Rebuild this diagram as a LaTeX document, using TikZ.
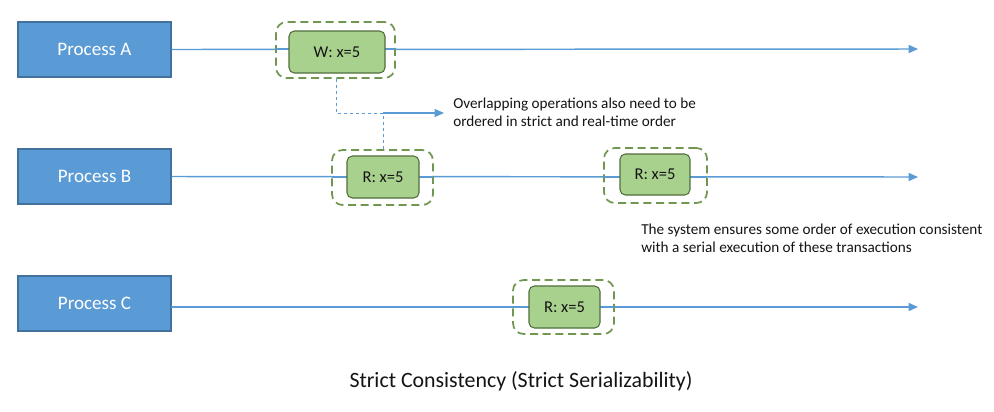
\documentclass[tikz,border=0pt]{standalone}
\usepackage{fontspec}
\setmainfont{Carlito}
\usetikzlibrary{arrows.meta}
\definecolor{procfill}{RGB}{91,155,213}
\definecolor{procdraw}{RGB}{65,113,156}
\definecolor{opfill}{RGB}{169,209,142}
\definecolor{opdraw}{RGB}{80,110,60}
\definecolor{grpdraw}{RGB}{112,150,80}
\definecolor{lineblue}{RGB}{91,155,213}
\definecolor{txt}{RGB}{20,20,20}
\tikzset{
  proc/.style={draw=procdraw, fill=procfill, line width=0.8pt, text=white,
    minimum width=114.75pt, minimum height=41.25pt, inner sep=0pt, font=\fontsize{14.3}{16}\selectfont},
  op/.style={draw=opdraw, fill=opfill, line width=0.8pt, rounded corners=4pt, text=txt,
    inner sep=0pt, font=\fontsize{12.4}{14}\selectfont},
  grp/.style={draw=grpdraw, line width=1.3pt, dash pattern=on 6pt off 3.5pt, rounded corners=8pt,
    inner sep=0pt},
  tline/.style={draw=lineblue, line width=1.1pt, -{Triangle[length=7pt,width=6pt]}},
  conn/.style={draw=lineblue, line width=0.6pt, dash pattern=on 2.5pt off 2pt},
  note/.style={anchor=north west, align=left, inner sep=0pt, text=txt, font=\fontsize{11.4}{13.5}\selectfont},
}
\begin{document}
\begin{tikzpicture}[x=0.75pt, y=-0.75pt]
\useasboundingbox (0,0) rectangle (994,411);
% process boxes
\node[proc] (pa) at (94.5,49.5) {Process A};
\node[proc] (pb) at (94.5,176.5) {Process B};
\node[proc] (pc) at (94.5,303.5) {Process C};
% timeline endpoints
\coordinate (ea) at (918,49);
\coordinate (eb) at (918,177);
\coordinate (ec) at (918,307);
\coordinate (sc) at (171,307);
\draw[tline] (pa.east) -- (ea);
\draw[tline] (pb.east) -- (eb);
\draw[tline] (sc) -- (ec);
% group outlines
\node[grp, fill=white, minimum width=89.25pt, minimum height=42pt] (gw) at (335.5,50) {};
\node[grp, fill=white, minimum width=75.75pt, minimum height=41.25pt] (gb1) at (382.5,177.5) {};
\node[grp, fill=white, minimum width=77.25pt, minimum height=41.25pt] (gb2) at (655.5,175.5) {};
\node[grp, fill=white, minimum width=75.75pt, minimum height=40.5pt] (gc) at (563.5,307) {};
% timeline through groups (under op boxes)
\draw[draw=lineblue, line width=1.1pt] (276,49) -- (395,49);
\draw[draw=lineblue, line width=1.1pt] (332,177) -- (433,177);
\draw[draw=lineblue, line width=1.1pt] (604,177) -- (707,177);
\draw[draw=lineblue, line width=1.1pt] (513,307) -- (614,307);
% operations
\node[op, minimum width=72pt, minimum height=31.5pt] (w) at (337,52) {W: x=5};
\node[op, minimum width=54pt, minimum height=31.5pt] (rb1) at (383,177) {R: x=5};
\node[op, minimum width=52.5pt, minimum height=30.75pt] (rb2) at (655,174.5) {R: x=5};
\node[op, minimum width=53.25pt, minimum height=31.5pt] (rc) at (564.5,307) {R: x=5};
% connectors
\coordinate (j1) at (336,113);
\coordinate (j2) at (383,113);
\coordinate (tip) at (444,113);
\draw[conn] (gw.south -| j1) -- (j1) -- (j2);
\draw[conn] (gb1.north -| j2) -- (j2);
\draw[draw=lineblue, line width=0.8pt, -{Triangle[length=7pt,width=6pt]}] (j2) -- (tip);
% notes
\node[note] (n1) at (453,98) {Overlapping operations also need to be\\ordered in strict and real-time order};
\node[note] (n2) at (641,224) {The system ensures some order of execution consistent\\with a serial execution of these transactions};
\node[text=txt, font=\fontsize{16.4}{18}\selectfont] (title) at (521,381) {Strict Consistency (Strict Serializability)};
\end{tikzpicture}
\end{document}
